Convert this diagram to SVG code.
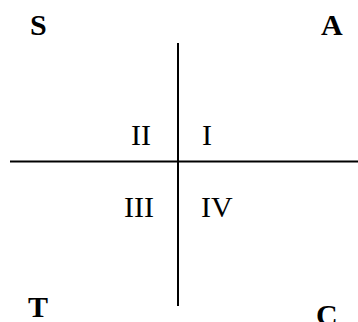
<svg xmlns="http://www.w3.org/2000/svg" width="358" height="322" viewBox="0 0 358 322">
<style>
.ax{stroke:#000;stroke-width:2;fill:none}
.corner{font-family:"Liberation Serif","Times New Roman",serif;font-weight:bold;font-size:30px;fill:#000}
.quad{font-family:"Liberation Serif","Times New Roman",serif;font-size:30px;fill:#000}
</style>
<rect width="358" height="322" fill="#fff"/>
<g id="axes">
<line class="ax" x1="178" y1="43" x2="178" y2="306"/>
<line class="ax" x1="10" y1="161.5" x2="358" y2="161.5"/>
</g>
<g id="S"><text class="corner" x="30" y="34.5">S</text></g>
<g id="A"><text class="corner" x="321" y="34.5">A</text></g>
<g id="T"><text class="corner" x="28" y="317">T</text></g>
<g id="C"><text class="corner" x="316" y="325">C</text></g>
<g id="q2"><text class="quad" x="131" y="145">II</text></g>
<g id="q1"><text class="quad" x="202" y="145">I</text></g>
<g id="q3"><text class="quad" x="124" y="217">III</text></g>
<g id="q4"><text class="quad" x="201" y="217">IV</text></g>
</svg>
